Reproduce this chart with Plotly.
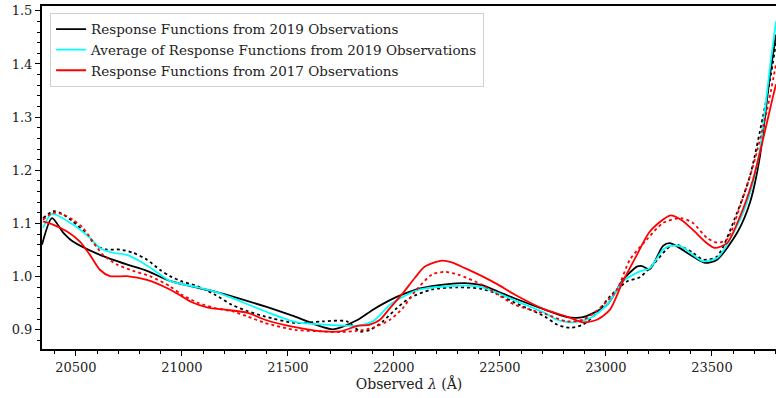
import plotly.graph_objects as go

# Black solid: response functions from 2019 observations
x_b = [20340, 20387, 20440, 20486, 20613, 20740, 20835, 20943, 21075, 21156, 21236, 21392, 21533,
       21712, 21825, 21901, 21981, 22050, 22123, 22255, 22335, 22415, 22491, 22571, 22712, 22816, 22892,
       23005, 23080, 23146, 23170, 23207, 23269, 23302, 23335, 23410, 23467, 23524, 23618, 23679,
       23726, 23774, 23802]
y_b = [1.060, 1.110, 1.083, 1.066, 1.041, 1.023, 1.011, 0.992, 0.979, 0.972, 0.963, 0.944, 0.925,
       0.901, 0.918, 0.938, 0.956, 0.968, 0.978, 0.986, 0.988, 0.984, 0.972, 0.959, 0.938, 0.924, 0.924,
       0.947, 0.994, 1.019, 1.020, 1.014, 1.058, 1.063, 1.057, 1.038, 1.026, 1.032, 1.082, 1.139,
       1.226, 1.380, 1.455]

# Black dotted
x_bd = [20345, 20392, 20425, 20486, 20552, 20599, 20646, 20708, 20769, 20835, 20896, 20943, 21000,
        21075, 21156, 21236, 21311, 21392, 21533, 21665, 21778, 21840, 21887, 21948, 22014, 22075,
        22179, 22302, 22415, 22491, 22571, 22712, 22769, 22830, 22892, 22957, 23019, 23099, 23160,
        23222, 23302, 23335, 23410, 23458, 23524, 23618, 23679, 23740, 23774, 23802]
y_bd = [1.110, 1.123, 1.120, 1.104, 1.079, 1.057, 1.051, 1.051, 1.045, 1.032, 1.013, 1.001, 0.991,
        0.982, 0.966, 0.947, 0.935, 0.925, 0.913, 0.916, 0.916, 0.897, 0.900, 0.916, 0.941, 0.960,
        0.976, 0.980, 0.977, 0.967, 0.951, 0.925, 0.910, 0.904, 0.910, 0.932, 0.963, 0.991, 0.999,
        1.023, 1.057, 1.060, 1.045, 1.032, 1.038, 1.120, 1.189, 1.300, 1.370, 1.440]

# Cyan: average of 2019 response functions
x_c = [20345, 20387, 20486, 20566, 20613, 20675, 20740, 20802, 20865, 20943, 21075, 21156, 21236,
       21392, 21533, 21665, 21825, 21901, 21981, 22061, 22123, 22255, 22335, 22415, 22491, 22571,
       22712, 22769, 22844, 22925, 23005, 23080, 23160, 23207, 23269, 23302, 23354, 23410, 23458,
       23524, 23618, 23679, 23726, 23774, 23802]
y_c = [1.092, 1.118, 1.098, 1.073, 1.054, 1.045, 1.041, 1.029, 1.013, 0.992, 0.980, 0.972, 0.960,
       0.935, 0.915, 0.910, 0.908, 0.916, 0.947, 0.966, 0.976, 0.982, 0.983, 0.980, 0.969, 0.955,
       0.932, 0.919, 0.914, 0.922, 0.947, 0.991, 1.010, 1.016, 1.051, 1.058, 1.057, 1.041, 1.029,
       1.035, 1.095, 1.157, 1.239, 1.395, 1.480]

# Red solid: response functions from 2017 observations
x_r = [20345, 20392, 20458, 20519, 20566, 20613, 20660, 20740, 20835, 20943, 21000, 21047, 21123,
       21203, 21311, 21392, 21533, 21665, 21745, 21825, 21887, 21934, 21981, 22042, 22099, 22146,
       22226, 22273, 22335, 22415, 22491, 22571, 22712, 22816, 22892, 22957, 23019, 23080, 23146,
       23207, 23302, 23354, 23410, 23476, 23514, 23571, 23632, 23693, 23740, 23788, 23802]
y_r = [1.104, 1.098, 1.085, 1.066, 1.041, 1.013, 1.001, 1.001, 0.994, 0.976, 0.963, 0.952, 0.942,
       0.938, 0.932, 0.919, 0.905, 0.897, 0.897, 0.907, 0.910, 0.919, 0.941, 0.969, 0.998, 1.019,
       1.030, 1.027, 1.016, 1.001, 0.985, 0.966, 0.938, 0.925, 0.914, 0.919, 0.938, 0.991, 1.041,
       1.085, 1.115, 1.107, 1.088, 1.063, 1.054, 1.063, 1.113, 1.182, 1.257, 1.339, 1.362]

# Red dotted
x_rd = [20345, 20392, 20439, 20486, 20533, 20580, 20627, 20693, 20769, 20849, 20943, 21000, 21075,
        21156, 21236, 21311, 21392, 21533, 21665, 21745, 21825, 21901, 21981, 22042, 22099, 22179,
        22240, 22302, 22415, 22491, 22571, 22712, 22816, 22892, 22972, 23052, 23113, 23193, 23269,
        23354, 23410, 23476, 23524, 23571, 23632, 23693, 23760, 23802]
y_rd = [1.107, 1.120, 1.117, 1.107, 1.092, 1.066, 1.041, 1.023, 1.011, 1.001, 0.982, 0.966, 0.951,
        0.941, 0.935, 0.925, 0.913, 0.900, 0.897, 0.896, 0.898, 0.904, 0.919, 0.941, 0.972, 1.004,
        1.009, 1.004, 0.985, 0.966, 0.947, 0.930, 0.916, 0.919, 0.941, 0.976, 1.032, 1.070, 1.101,
        1.110, 1.101, 1.073, 1.064, 1.070, 1.132, 1.207, 1.314, 1.400]

legend_names = ["Response Functions from 2019 Observations",
                "Average of Response Functions from 2019 Observations",
                "Response Functions from 2017 Observations"]

FONT = "DejaVu Serif"
TXT = "#222222"
W = 1.8
SM = 0.7
fig = go.Figure()
fig.add_trace(go.Scatter(x=x_bd, y=y_bd, mode="lines", showlegend=False,
                         line=dict(color="black", width=W, dash="dot", shape="spline", smoothing=SM)))
fig.add_trace(go.Scatter(x=x_b, y=y_b, mode="lines", name=legend_names[0],
                         line=dict(color="black", width=W, shape="spline", smoothing=SM)))
fig.add_trace(go.Scatter(x=x_c, y=y_c, mode="lines", name=legend_names[1],
                         line=dict(color="cyan", width=W, shape="spline", smoothing=SM)))
fig.add_trace(go.Scatter(x=x_rd, y=y_rd, mode="lines", showlegend=False,
                         line=dict(color="red", width=W, dash="dot", shape="spline", smoothing=SM)))
fig.add_trace(go.Scatter(x=x_r, y=y_r, mode="lines", name=legend_names[2],
                         line=dict(color="red", width=W, shape="spline", smoothing=SM)))

fig.update_layout(
    width=776, height=398,
    margin=dict(l=42, r=0, t=6, b=49),
    paper_bgcolor="white", plot_bgcolor="white",
    font=dict(family=FONT, size=13, color=TXT),
    showlegend=True,
    legend=dict(x=0.011, y=0.98, xanchor="left", yanchor="top",
                bgcolor="rgba(255,255,255,0.8)", bordercolor="#d0d0d0", borderwidth=1,
                font=dict(family=FONT, size=13.5, color=TXT),
                tracegroupgap=0, itemwidth=30),
    xaxis=dict(range=[20340, 23802], showgrid=False, zeroline=False,
               tick0=20500, dtick=500, tickformat="d",
               ticks="outside", ticklen=5, tickwidth=1.2, tickcolor="black",
               showline=True, linecolor="black", linewidth=2, mirror=True,
               minor=dict(dtick=100, tick0=20500, ticks="outside", ticklen=3, tickcolor="black"),
               title=dict(text="Observed <i>λ</i> (Å)", font=dict(family=FONT, size=14, color=TXT),
                          standoff=6),
               tickfont=dict(family=FONT, size=13, color=TXT)),
    yaxis=dict(range=[0.864, 1.509], showgrid=False, zeroline=False,
               tick0=0.9, dtick=0.1, tickformat=".1f",
               ticks="outside", ticklen=5, tickwidth=1.2, tickcolor="black",
               showline=True, linecolor="black", linewidth=2, mirror=False,
               minor=dict(dtick=0.02, tick0=0.9, ticks="outside", ticklen=3, tickcolor="black"),
               tickfont=dict(family=FONT, size=13, color=TXT)),
)

fig.write_html("out.html")
